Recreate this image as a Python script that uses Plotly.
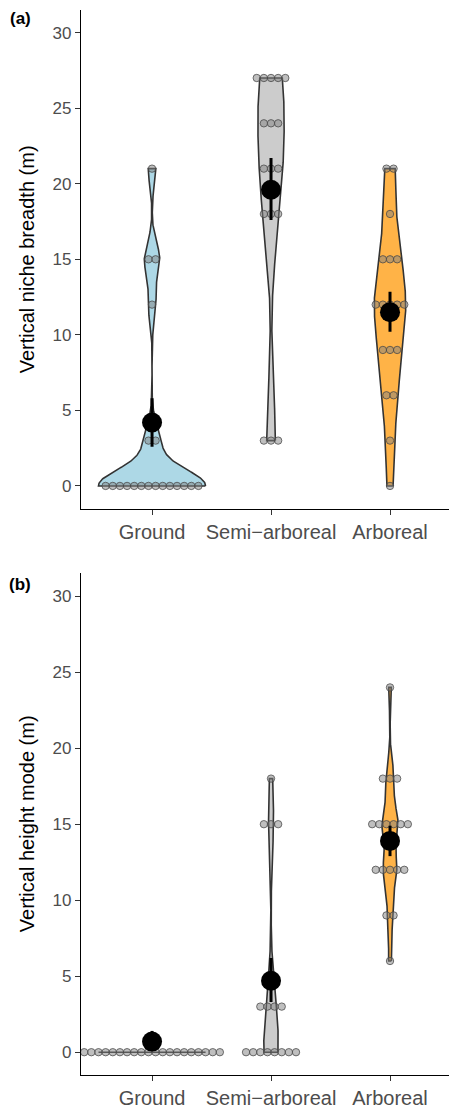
import numpy as np
import plotly.graph_objects as go

categories = ["Ground", "Semi\u2212arboreal", "Arboreal"]
y_ticks = [0, 5, 10, 15, 20, 25, 30]

# Panel (a): vertical niche breadth (m)
breadth_ground = [0, 0, 0, 0, 0, 0, 0, 0, 0, 0, 0, 0, 0, 0, 3, 3, 12, 15, 15, 21]
breadth_semi = [3, 3, 3, 18, 18, 18, 21, 21, 21, 24, 24, 24, 27, 27, 27, 27, 27]
breadth_arb = [0, 3, 6, 6, 9, 9, 9, 12, 12, 12, 12, 12, 15, 15, 15, 18, 21, 21]
breadth_mean = [4.2, 19.6, 11.5]
breadth_lo = [2.6, 17.6, 10.2]
breadth_hi = [5.8, 21.7, 12.85]

# Panel (b): vertical height mode (m)
height_ground = [0, 0, 0, 0, 0, 0, 0, 0, 0, 0, 0, 0, 0, 0, 0, 0, 0, 0, 0, 0]
height_semi = [0, 0, 0, 0, 0, 0, 0, 0, 3, 3, 3, 3, 15, 15, 15, 18]
height_arb = [6, 9, 9, 12, 12, 12, 12, 12, 15, 15, 15, 15, 15, 15, 18, 18, 18, 24]
height_mean = [0.7, 4.7, 13.9]
height_lo = [0.1, 3.3, 12.9]
height_hi = [1.4, 6.2, 14.9]

fills = ["#ADD8E6", "#CCCCCC", "#FFB347"]
FONT = "Liberation Sans, Arial, Helvetica, sans-serif"


def bw_nrd0(x):
    x = np.asarray(x, float)
    hi = np.std(x, ddof=1)
    q75, q25 = np.percentile(x, [75, 25])
    lo = min(hi, (q75 - q25) / 1.34)
    if lo == 0:
        lo = hi if hi > 0 else (abs(x[0]) if x[0] != 0 else 1.0)
    return 0.9 * lo * len(x) ** -0.2


def kde(x):
    x = np.asarray(x, float)
    bw = bw_nrd0(x)
    grid = np.linspace(x.min(), x.max(), 512)
    d = np.exp(-0.5 * ((grid[:, None] - x[None, :]) / bw) ** 2).mean(axis=1) / (bw * np.sqrt(2 * np.pi))
    return grid, d


fig = go.Figure()


def add_panel(groups, means, los, his, xa, ya):
    dens = [kde(g) for g in groups]
    dmax = max(d.max() for _, d in dens)
    # violins
    for i, ((grid, d), col) in enumerate(zip(dens, fills)):
        c = i + 1
        hw = 0.45 * d / dmax
        xs = np.concatenate([c + hw, (c - hw)[::-1], [c + hw[0]]])
        ys = np.concatenate([grid, grid[::-1], [grid[0]]])
        fig.add_trace(go.Scatter(x=xs, y=ys, mode="lines", fill="toself", fillcolor=col,
                                 line=dict(color="#333333", width=1.6), hoverinfo="skip",
                                 showlegend=False, xaxis=xa, yaxis=ya))
    # dots (centered stacks)
    step = 0.06
    for i, g in enumerate(groups):
        c = i + 1
        vals, counts = np.unique(np.asarray(g), return_counts=True)
        dx, dy = [], []
        for v, n in zip(vals, counts):
            for k in range(n):
                dx.append(c + (k - (n - 1) / 2) * step)
                dy.append(v)
        fig.add_trace(go.Scatter(x=dx, y=dy, mode="markers",
                                 marker=dict(size=7.4, color="rgba(128,128,128,0.5)",
                                             line=dict(color="rgba(70,70,70,0.75)", width=1)),
                                 hoverinfo="skip", showlegend=False, xaxis=xa, yaxis=ya))
    # means with error bars
    m = np.asarray(means)
    fig.add_trace(go.Scatter(x=[1, 2, 3], y=m, mode="markers",
                             marker=dict(size=20, color="black"),
                             error_y=dict(type="data", symmetric=False,
                                          array=np.asarray(his) - m, arrayminus=m - np.asarray(los),
                                          color="black", thickness=3, width=0),
                             showlegend=False, xaxis=xa, yaxis=ya))


add_panel([breadth_ground, breadth_semi, breadth_arb], breadth_mean, breadth_lo, breadth_hi, "x", "y")
add_panel([height_ground, height_semi, height_arb], height_mean, height_lo, height_hi, "x2", "y2")

xcommon = dict(range=[0.403, 3.563], tickmode="array", tickvals=[1, 2, 3], ticktext=categories,
               showline=True, linecolor="black", linewidth=1.3, ticks="outside", ticklen=5,
               tickcolor="#333333", tickwidth=1.1, showgrid=False, zeroline=False,
               tickfont=dict(family=FONT, size=20, color="#4D4D4D"))
ycommon = dict(range=[-1.5, 31.5], tickmode="array", tickvals=y_ticks,
               showline=True, linecolor="black", linewidth=1.3, ticks="outside", ticklen=5,
               tickcolor="#333333", tickwidth=1.1, showgrid=False, zeroline=False,
               tickfont=dict(family=FONT, size=17, color="#4D4D4D"))

# page body has an 8px margin; figure sized/positioned to compensate
top_a = 1.0
bot_a = (1078 - 510) / 1068
top_b = (1078 - 575) / 1068

fig.update_layout(
    width=449, height=1101,
    margin=dict(l=73, r=0, t=2, b=31),
    plot_bgcolor="white", paper_bgcolor="white",
    xaxis=dict(domain=[0, 1], anchor="y", **xcommon),
    yaxis=dict(domain=[bot_a, top_a], anchor="x", **ycommon),
    xaxis2=dict(domain=[0, 1], anchor="y2", **xcommon),
    yaxis2=dict(domain=[0, top_b], anchor="x2", **ycommon),
    annotations=[
        dict(text="Vertical niche breadth (m)", x=(27 - 81) / 376, y=(bot_a + top_a) / 2,
             xref="paper", yref="paper", textangle=-90, showarrow=False,
             xanchor="center", yanchor="middle", font=dict(family=FONT, size=20, color="black")),
        dict(text="Vertical height mode (m)", x=(27 - 81) / 376, y=top_b / 2,
             xref="paper", yref="paper", textangle=-90, showarrow=False,
             xanchor="center", yanchor="middle", font=dict(family=FONT, size=20, color="black")),
        dict(text="<b>(a)</b>", x=(20 - 81) / 376, y=(1078 - 19) / 1068,
             xref="paper", yref="paper", showarrow=False, xanchor="center", yanchor="middle",
             font=dict(family=FONT, size=17, color="black")),
        dict(text="<b>(b)</b>", x=(20 - 81) / 376, y=(1078 - 586) / 1068,
             xref="paper", yref="paper", showarrow=False, xanchor="center", yanchor="middle",
             font=dict(family=FONT, size=17, color="black")),
    ],
)

fig.write_html("out.html")
